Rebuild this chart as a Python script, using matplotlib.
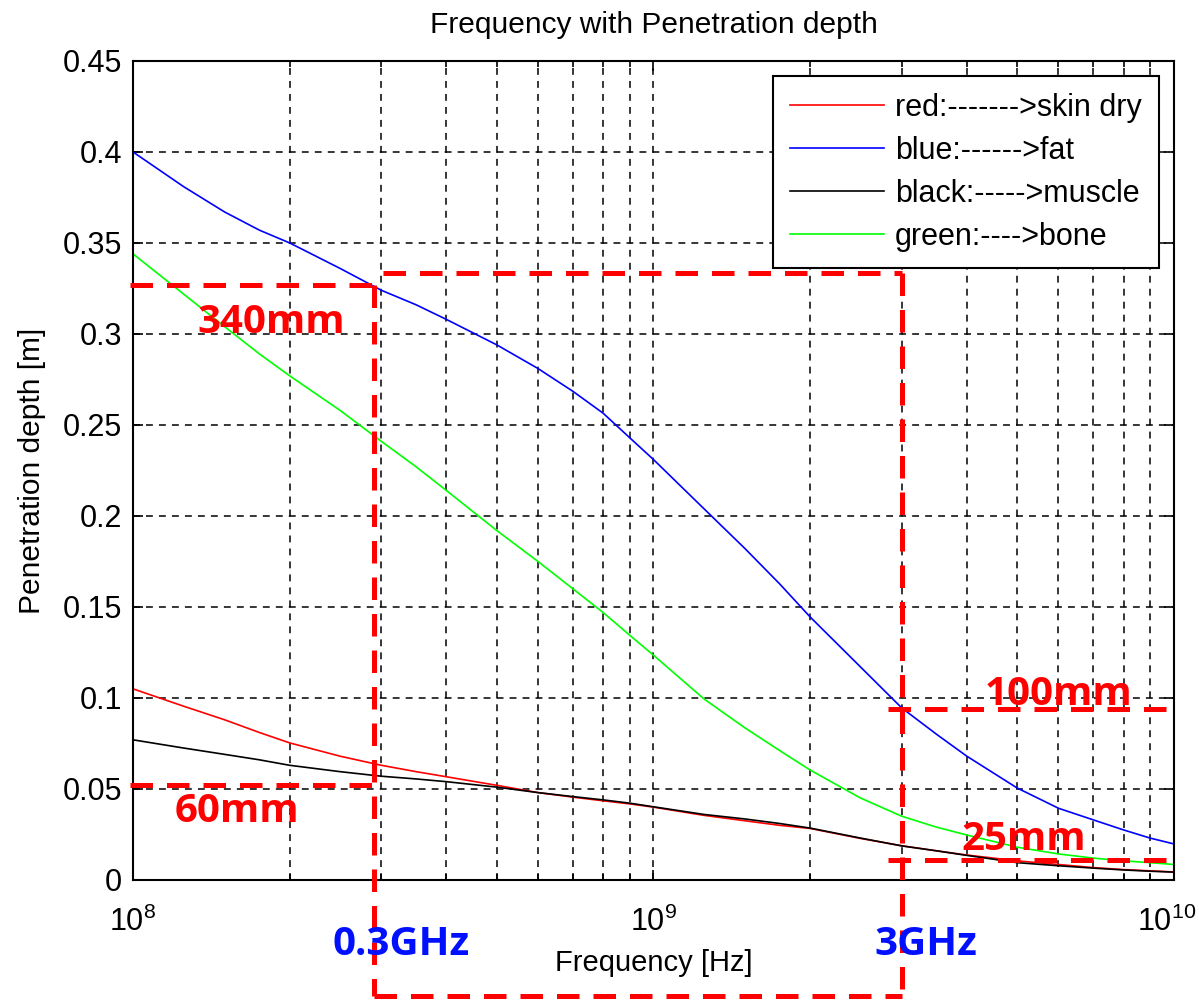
import numpy as np
import matplotlib
matplotlib.use('Agg')
import matplotlib.pyplot as plt
import matplotlib.transforms as mtransforms
from matplotlib.ticker import LogLocator, FixedLocator, NullFormatter

plt.rcParams['font.family'] = ['Liberation Sans', 'DejaVu Sans']
plt.rcParams['mathtext.fontset'] = 'custom'
plt.rcParams['mathtext.rm'] = 'Liberation Sans'

# frecuencias [Hz] y profundidad de penetracion [m] por tejido
freq = [1e8, 1.25e8, 1.5e8, 1.75e8, 2e8, 2.5e8, 3e8, 3.5e8, 4e8, 5e8, 6e8,
        7e8, 8e8, 9e8, 1e9, 1.25e9, 1.5e9, 1.75e9, 2e9, 2.5e9, 3e9, 3.5e9,
        4e9, 5e9, 6e9, 7e9, 8e9, 9e9, 1e10]
skin_dry = [0.105, 0.0955, 0.088, 0.081, 0.0753, 0.068, 0.063, 0.0595, 0.0567,
            0.052, 0.048, 0.0455, 0.0435, 0.0418, 0.040, 0.0355, 0.0325, 0.030,
            0.0283, 0.0228, 0.0188, 0.016, 0.0137, 0.0105, 0.0085, 0.0068,
            0.0057, 0.005, 0.0044]
fat = [0.400, 0.381, 0.367, 0.357, 0.350, 0.336, 0.324, 0.316, 0.308, 0.294,
       0.281, 0.2685, 0.2565, 0.243, 0.231, 0.204, 0.182, 0.1625, 0.1445,
       0.117, 0.0945, 0.080, 0.068, 0.0505, 0.0394, 0.033, 0.0275, 0.023,
       0.0198]
muscle = [0.077, 0.0725, 0.069, 0.066, 0.063, 0.0595, 0.057, 0.0555, 0.054,
          0.051, 0.048, 0.0458, 0.044, 0.0422, 0.0402, 0.036, 0.0335, 0.031,
          0.0285, 0.023, 0.0187, 0.016, 0.0135, 0.0095, 0.0078, 0.0065,
          0.0055, 0.0048, 0.0043]
bone = [0.344, 0.322, 0.304, 0.289, 0.277, 0.258, 0.241, 0.227, 0.214, 0.192,
        0.175, 0.160, 0.147, 0.1345, 0.1235, 0.0995, 0.0835, 0.071, 0.0604,
        0.045, 0.035, 0.029, 0.0247, 0.018, 0.0143, 0.012, 0.0105, 0.0095,
        0.0085]

series = [skin_dry, fat, muscle, bone]
labels = ['red:------->skin dry', 'blue:------>fat',
          'black:----->muscle', 'green:---->bone']
colors = ['#ff0000', '#0000ff', '#000000', '#00ff00']

y_ticks = [0, 0.05, 0.1, 0.15, 0.2, 0.25, 0.3, 0.35, 0.4, 0.45]
y_tick_labels = ['0', '0.05', '0.1', '0.15', '0.2', '0.25', '0.3', '0.35', '0.4', '0.45']
x_ticks = [1e8, 1e9, 1e10]
x_tick_labels = [r'$10^{8}$', r'$10^{9}$', r'$10^{10}$']

# lineas guia rojas (frecuencias y profundidades marcadas)
f_low, f_high = 2.9e8, 3.0e9
depth_low_band = [0.327, 0.052]    # a la izquierda de 0.3GHz
depth_high_band = [0.094, 0.011]   # a la derecha de 3GHz
box_top, box_bottom = 0.3335, -0.064

fig = plt.figure(figsize=(11.99, 10.02), dpi=100)
ax = fig.add_axes([0.1109, 0.1218, 0.8682, 0.8174])

for vals, lab, col in zip(series, labels, colors):
    ax.plot(freq, vals, color=col, lw=1.2, label=lab)

ax.set_xscale('log')
ax.set_xlim(1e8, 1e10)
ax.set_ylim(0, 0.45)
ax.yaxis.set_major_locator(FixedLocator(y_ticks))
ax.set_yticklabels(y_tick_labels)
ax.set_xticks(x_ticks)
ax.set_xticklabels(x_tick_labels)
ax.xaxis.set_minor_locator(LogLocator(base=10, subs=range(2, 10)))
ax.xaxis.set_minor_formatter(NullFormatter())

grid_style = dict(color='black', linestyle=(0, (4.5, 4)), linewidth=1.1)
ax.grid(True, which='both', axis='x', **grid_style)
ax.grid(True, which='major', axis='y', **grid_style)

ax.tick_params(which='both', direction='in', top=True, right=True, width=1.2,
               labelsize=22)
ax.tick_params(which='major', length=7)
ax.tick_params(which='minor', length=4)
ax.tick_params(axis='y', pad=8)
ax.tick_params(axis='x', pad=19)
for s in ax.spines.values():
    s.set_linewidth(1.5)

# la etiqueta 10^10 se corre un poco a la izquierda para que quepa
last_lab = ax.xaxis.get_major_ticks()[-1].label1
last_lab.set_transform(last_lab.get_transform() +
                       mtransforms.ScaledTranslation(-0.07, 0, fig.dpi_scale_trans))

ax.set_title('Frequency with Penetration depth', fontsize=21.5, pad=20)
ax.set_xlabel('Frequency [Hz]', fontsize=21, labelpad=8)
ax.set_ylabel('Penetration depth [m]', fontsize=21.5, labelpad=12)

leg = ax.legend(loc='upper right', fontsize=22, frameon=True, fancybox=False,
                edgecolor='black', framealpha=1, handlelength=3.1,
                handletextpad=0.35, labelspacing=0.42, borderaxespad=0.5,
                borderpad=0.55)
leg.get_frame().set_linewidth(1.5)

# guias rojas discontinuas
guide = dict(color='#ff0000', lw=3.6, linestyle=(0, (4.5, 2.8)),
             clip_on=False, zorder=5)
ax.plot([0.985e8, f_low], [depth_low_band[0]] * 2, **guide)
ax.plot([0.985e8, f_low], [depth_low_band[1]] * 2, **guide)
ax.plot([f_low, f_low], [depth_low_band[0], box_bottom], **guide)
ax.plot([f_low * 1.04, f_high], [box_top, box_top], **guide)
ax.plot([f_high, f_high], [box_top, box_bottom], **guide)
ax.plot([f_low, f_high], [box_bottom, box_bottom], **guide)
ax.plot([f_high * 0.94, 1e10], [depth_high_band[0]] * 2, **guide)
ax.plot([f_high * 0.94, 1e10], [depth_high_band[1]] * 2, **guide)

note = dict(fontsize=29, fontweight='bold', family=['Open Sans', 'DejaVu Sans'],
            ha='center', va='baseline', zorder=6, clip_on=False)
ax.text(1.84e8, 0.3005, '340mm', color='#ff0000', **note)
ax.text(1.584e8, 0.0319, '60mm', color='#ff0000', **note)
ax.text(6.01e9, 0.0962, '100mm', color='#ff0000', **note)
ax.text(5.15e9, 0.0165, '25mm', color='#ff0000', **note)
ax.text(3.27e8, -0.0412, '0.3GHz', color='#0010ff', **note)
ax.text(3.34e9, -0.0412, '3GHz', color='#0010ff', **note)

fig.savefig('out.png', dpi=100)
